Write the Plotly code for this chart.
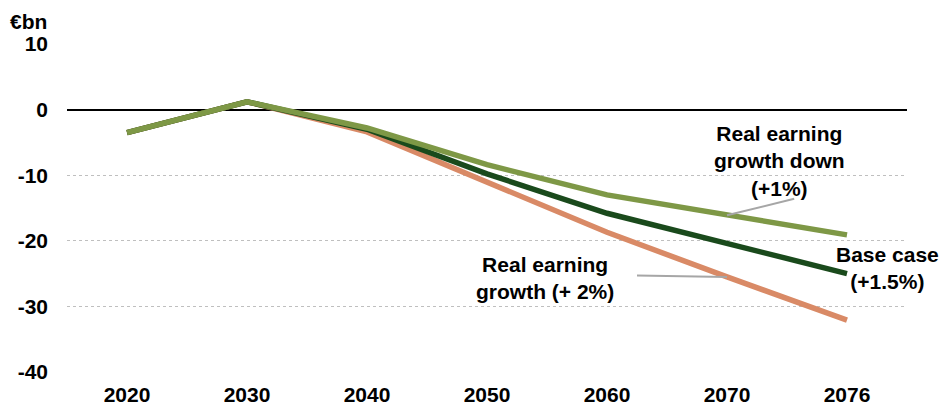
import plotly.graph_objects as go

# Pension balance projections, €bn
years = ["2020", "2030", "2040", "2050", "2060", "2070", "2076"]
base_case = [-3.5, 1.2, -3.0, -9.8, -15.8, -20.4, -25.0]
growth_down_1pct = [-3.5, 1.2, -2.8, -8.4, -13.0, -16.0, -19.1]
growth_up_2pct = [-3.5, 1.2, -3.4, -11.1, -18.7, -25.5, -32.1]

y_ticks = [10, 0, -10, -20, -30, -40]
y_tick_labels = ["10", "0", "-10", "-20", "-30", "-40"]

FONT = "Liberation Sans, Arial, sans-serif"
LABEL_SIZE = 21
LINE_W = 5.5

fig = go.Figure()

fig.add_trace(go.Scatter(x=years, y=growth_up_2pct, mode="lines",
                         line=dict(color="#D98A66", width=LINE_W),
                         name="Real earning growth (+ 2%)"))
fig.add_trace(go.Scatter(x=years, y=base_case, mode="lines",
                         line=dict(color="#1A4A1C", width=LINE_W),
                         name="Base case (+1.5%)"))
fig.add_trace(go.Scatter(x=years, y=growth_down_1pct, mode="lines",
                         line=dict(color="#7E9846", width=LINE_W),
                         name="Real earning growth down (+1%)"))

# leader lines from the series labels to the curves
leader = dict(color="#A6A6A6", width=2)
fig.add_shape(type="line", xref="x", yref="y", x0=5.0, y0=-16.1, x1=5.56, y1=-13.6, line=leader)
fig.add_shape(type="line", xref="x", yref="y", x0=4.25, y0=-25.3, x1=5.0, y1=-25.5, line=leader)

label_font = dict(family=FONT, size=LABEL_SIZE, color="#000000", weight="bold")
fig.add_annotation(x=5.44, y=-7.8, xref="x", yref="y", showarrow=False,
                   text="Real earning<br>growth down<br>(+1%)", font=label_font,
                   align="center", xanchor="center", yanchor="middle")
fig.add_annotation(x=6.34, y=-24.1, xref="x", yref="y", showarrow=False,
                   text="Base case<br>(+1.5%)", font=label_font,
                   align="center", xanchor="center", yanchor="middle")
fig.add_annotation(x=3.48, y=-25.6, xref="x", yref="y", showarrow=False,
                   text="Real earning<br>growth (+ 2%)", font=label_font,
                   align="center", xanchor="center", yanchor="middle")

# unit label above the value axis
fig.add_annotation(x=0, y=1, xref="paper", yref="paper", showarrow=False,
                   text="€bn", font=label_font, xanchor="right", yanchor="bottom",
                   xshift=-18, yshift=9)

fig.update_xaxes(type="category", range=[-0.5, 6.5], showgrid=False, showline=False,
                 zeroline=False, ticks="", ticklabelstandoff=8, automargin=False,
                 tickfont=dict(family=FONT, size=LABEL_SIZE, color="#000000", weight="bold"))
fig.update_yaxes(range=[-40, 10], tickvals=y_ticks, ticktext=y_tick_labels,
                 showgrid=True, gridcolor="#BFBFBF", griddash="dot", gridwidth=1,
                 zeroline=True, zerolinecolor="#000000", zerolinewidth=2,
                 showline=False, ticks="", ticklabelstandoff=18, automargin=False,
                 tickfont=dict(family=FONT, size=LABEL_SIZE, color="#000000", weight="bold"))

fig.update_layout(width=952, height=407, margin=dict(l=67, r=45, t=44, b=35),
                  plot_bgcolor="#FFFFFF", paper_bgcolor="#FFFFFF", showlegend=False,
                  font=dict(family=FONT))

fig.write_html("out.html")
